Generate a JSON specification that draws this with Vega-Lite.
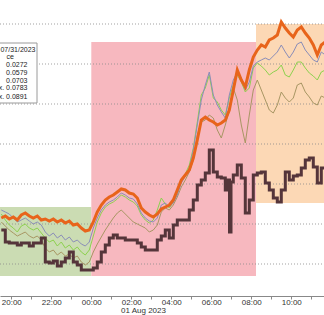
{
  "$schema": "https://vega.github.io/schema/vega-lite/v6.json",
  "width": 324,
  "height": 296,
  "autosize": {"type": "none"},
  "padding": {"left": 0, "top": 0, "right": 0, "bottom": 19},
  "background": "white",
  "config": {"view": {"stroke": null}, "font": "Liberation Sans"},
  "datasets": {
    "regions": [
      {"name": "green", "h": 19.3, "h2": 24.0, "v": 2.425, "v2": 0.7},
      {"name": "pink", "h": 24.0, "h2": 32.235, "v": 6.55, "v2": 0.7},
      {"name": "peach", "h": 32.235, "h2": 35.8, "v": 7.0, "v2": 2.525}
    ],
    "vgrid": [{"h": 20}, {"h": 22}, {"h": 26}, {"h": 28}, {"h": 30}, {"h": 32}, {"h": 34}],
    "midnight": [{"h": 24}],
    "hgrid": [{"v": 1}, {"v": 2}, {"v": 3}, {"v": 4}, {"v": 5}, {"v": 6}, {"v": 7}],
    "legendbox": [{"h": 19.3, "h2": 21.285, "v": 6.525, "v2": 5.025}],
    "legendtext": [
      {"h": 21.21, "v": 6.35, "label": "07/31/2023"},
      {"h": 20.135, "v": 6.167, "label": "ce"},
      {"h": 20.81, "v": 5.967, "label": "0.0272"},
      {"h": 20.81, "v": 5.783, "label": "0.0579"},
      {"h": 20.81, "v": 5.583, "label": "0.0703"},
      {"h": 20.81, "v": 5.392, "label": "x. 0.0783"},
      {"h": 20.81, "v": 5.183, "label": "x. 0.0891"}
    ],
    "lines": [
      {"h": 19.5, "A": 2.15, "B": 2.35, "C": 2.25, "D": 2.05, "E": 1.85},
      {"h": 19.7, "A": 2.2, "B": 2.3, "C": 2.1, "D": 1.95, "E": 1.55},
      {"h": 19.9, "A": 2.125, "B": 2.25, "C": 1.975, "D": 1.85, "E": 1.525},
      {"h": 20.1, "A": 2.175, "B": 2.15, "C": 1.9, "D": 1.775, "E": 1.525},
      {"h": 20.3, "A": 2.1, "B": 2.05, "C": 1.8, "D": 1.7, "E": 1.475},
      {"h": 20.5, "A": 2.225, "B": 2.1, "C": 1.95, "D": 1.75, "E": 1.525},
      {"h": 20.7, "A": 2.275, "B": 2.15, "C": 2.0, "D": 1.8, "E": 1.525},
      {"h": 20.9, "A": 2.2, "B": 2.075, "C": 1.9, "D": 1.7, "E": 1.45},
      {"h": 21.1, "A": 2.15, "B": 2.0, "C": 1.85, "D": 1.65, "E": 1.525},
      {"h": 21.3, "A": 2.2, "B": 2.05, "C": 1.9, "D": 1.7, "E": 1.525},
      {"h": 21.5, "A": 2.1, "B": 1.975, "C": 1.775, "D": 1.6, "E": 1.65},
      {"h": 21.7, "A": 2.125, "B": 1.8, "C": 1.65, "D": 1.4, "E": 1.05},
      {"h": 21.9, "A": 2.075, "B": 1.7, "C": 1.55, "D": 1.3, "E": 1.025},
      {"h": 22.1, "A": 2.125, "B": 1.775, "C": 1.6, "D": 1.35, "E": 1.075},
      {"h": 22.3, "A": 2.05, "B": 1.65, "C": 1.45, "D": 1.225, "E": 0.95},
      {"h": 22.5, "A": 2.1, "B": 1.725, "C": 1.55, "D": 1.3, "E": 1.05},
      {"h": 22.7, "A": 2.025, "B": 1.6, "C": 1.4, "D": 1.2, "E": 1.15},
      {"h": 22.9, "A": 2.075, "B": 1.675, "C": 1.475, "D": 1.25, "E": 1.3},
      {"h": 23.1, "A": 1.975, "B": 1.55, "C": 1.35, "D": 1.15, "E": 1.05},
      {"h": 23.3, "A": 2.0, "B": 1.6, "C": 1.425, "D": 1.2, "E": 0.975},
      {"h": 23.5, "A": 1.9, "B": 1.5, "C": 1.3, "D": 1.05, "E": 0.85},
      {"h": 23.7, "A": 1.825, "B": 1.45, "C": 1.225, "D": 0.975, "E": 0.85},
      {"h": 23.9, "A": 1.85, "B": 1.55, "C": 1.35, "D": 1.05, "E": 0.85},
      {"h": 24.1, "A": 2.05, "B": 1.9, "C": 1.7, "D": 1.3, "E": 0.9},
      {"h": 24.3, "A": 2.3, "B": 2.15, "C": 2.05, "D": 1.5, "E": 1.05},
      {"h": 24.5, "A": 2.475, "B": 2.35, "C": 2.275, "D": 1.675, "E": 1.3},
      {"h": 24.7, "A": 2.6, "B": 2.475, "C": 2.425, "D": 1.85, "E": 1.475},
      {"h": 24.9, "A": 2.675, "B": 2.55, "C": 2.5, "D": 2.0, "E": 1.65},
      {"h": 25.1, "A": 2.725, "B": 2.6, "C": 2.55, "D": 2.15, "E": 1.725},
      {"h": 25.3, "A": 2.8, "B": 2.675, "C": 2.625, "D": 2.275, "E": 1.65},
      {"h": 25.5, "A": 2.875, "B": 2.775, "C": 2.725, "D": 2.35, "E": 1.65},
      {"h": 25.7, "A": 2.85, "B": 2.725, "C": 2.675, "D": 2.25, "E": 1.6},
      {"h": 25.9, "A": 2.775, "B": 2.65, "C": 2.6, "D": 2.15, "E": 1.6},
      {"h": 26.1, "A": 2.75, "B": 2.625, "C": 2.55, "D": 2.05, "E": 1.6},
      {"h": 26.3, "A": 2.65, "B": 2.5, "C": 2.45, "D": 2.0, "E": 1.525},
      {"h": 26.5, "A": 2.4, "B": 2.275, "C": 2.225, "D": 1.95, "E": 1.425},
      {"h": 26.7, "A": 2.3, "B": 2.15, "C": 2.1, "D": 1.9, "E": 1.35},
      {"h": 26.9, "A": 2.225, "B": 2.075, "C": 2.025, "D": 1.8, "E": 1.35},
      {"h": 27.1, "A": 2.175, "B": 2.05, "C": 2.1, "D": 1.85, "E": 1.35},
      {"h": 27.3, "A": 2.25, "B": 2.15, "C": 2.35, "D": 1.975, "E": 1.6},
      {"h": 27.5, "A": 2.375, "B": 2.475, "C": 2.65, "D": 2.3, "E": 1.7},
      {"h": 27.7, "A": 2.425, "B": 2.525, "C": 2.5, "D": 2.4, "E": 1.85},
      {"h": 27.9, "A": 2.475, "B": 2.425, "C": 2.4, "D": 2.35, "E": 1.65},
      {"h": 28.1, "A": 2.6, "B": 2.525, "C": 2.55, "D": 2.475, "E": 1.975},
      {"h": 28.3, "A": 2.85, "B": 2.725, "C": 2.775, "D": 2.675, "E": 2.1},
      {"h": 28.5, "A": 3.1, "B": 3.025, "C": 3.05, "D": 2.925, "E": 2.1},
      {"h": 28.7, "A": 3.225, "B": 3.2, "C": 3.25, "D": 3.1, "E": 2.1},
      {"h": 28.9, "A": 3.35, "B": 3.4, "C": 3.475, "D": 3.3, "E": 2.35},
      {"h": 29.1, "A": 3.65, "B": 3.85, "C": 3.9, "D": 3.6, "E": 2.6},
      {"h": 29.3, "A": 4.1, "B": 4.475, "C": 4.55, "D": 4.225, "E": 2.975},
      {"h": 29.5, "A": 4.6, "B": 5.1, "C": 5.225, "D": 4.55, "E": 3.1},
      {"h": 29.7, "A": 4.675, "B": 5.475, "C": 5.4, "D": 4.6, "E": 3.275},
      {"h": 29.9, "A": 4.6, "B": 5.8, "C": 5.725, "D": 4.725, "E": 3.85},
      {"h": 30.1, "A": 4.55, "B": 5.225, "C": 5.15, "D": 4.65, "E": 3.3},
      {"h": 30.3, "A": 4.475, "B": 4.975, "C": 5.05, "D": 4.35, "E": 3.175},
      {"h": 30.5, "A": 4.525, "B": 4.8, "C": 4.85, "D": 4.15, "E": 3.15},
      {"h": 30.7, "A": 4.6, "B": 4.65, "C": 4.725, "D": 4.475, "E": 2.85},
      {"h": 30.835, "E": 3.1},
      {"h": 30.9, "A": 4.85, "B": 5.225, "C": 5.15, "D": 4.85},
      {"h": 30.91, "E": 1.8},
      {"h": 30.985, "E": 3.05},
      {"h": 31.1, "A": 5.35, "B": 5.6, "C": 5.475, "D": 5.4, "E": 3.225},
      {"h": 31.3, "A": 5.85, "B": 5.8, "C": 5.725, "D": 5.1, "E": 3.475},
      {"h": 31.5, "A": 5.6, "B": 5.65, "C": 5.55, "D": 4.475, "E": 3.15},
      {"h": 31.7, "A": 5.425, "B": 5.35, "C": 5.3, "D": 4.025, "E": 2.275},
      {"h": 31.9, "A": 5.85, "B": 5.55, "C": 5.4, "D": 4.725, "E": 2.6},
      {"h": 32.1, "A": 6.175, "B": 5.95, "C": 5.9, "D": 5.35, "E": 3.225},
      {"h": 32.3, "A": 6.35, "B": 6.05, "C": 6.025, "D": 5.6, "E": 3.275},
      {"h": 32.5, "A": 6.475, "B": 6.1, "C": 5.95, "D": 5.35, "E": 3.3},
      {"h": 32.7, "A": 6.425, "B": 6.15, "C": 5.85, "D": 5.1, "E": 3.025},
      {"h": 32.9, "A": 6.6, "B": 6.1, "C": 5.725, "D": 4.85, "E": 2.85},
      {"h": 33.1, "A": 6.65, "B": 6.2, "C": 5.8, "D": 4.775, "E": 2.65},
      {"h": 33.3, "A": 6.725, "B": 6.3, "C": 5.85, "D": 4.975, "E": 2.55},
      {"h": 33.5, "A": 7.05, "B": 6.475, "C": 5.975, "D": 5.3, "E": 2.85},
      {"h": 33.7, "A": 6.9, "B": 6.3, "C": 5.725, "D": 5.15, "E": 3.3},
      {"h": 33.9, "A": 6.775, "B": 6.15, "C": 5.675, "D": 5.05, "E": 3.1},
      {"h": 34.1, "A": 6.675, "B": 6.3, "C": 5.85, "D": 5.15, "E": 3.2},
      {"h": 34.3, "A": 6.85, "B": 6.5, "C": 6.05, "D": 5.475, "E": 3.225},
      {"h": 34.5, "A": 6.925, "B": 6.55, "C": 6.05, "D": 5.525, "E": 3.4},
      {"h": 34.7, "A": 6.775, "B": 6.35, "C": 5.9, "D": 5.3, "E": 3.6},
      {"h": 34.9, "A": 6.65, "B": 6.225, "C": 5.775, "D": 5.175, "E": 3.65},
      {"h": 35.1, "A": 6.475, "B": 6.1, "C": 5.7, "D": 5.025, "E": 3.425},
      {"h": 35.3, "A": 6.225, "B": 6.05, "C": 5.6, "D": 4.975, "E": 3.025},
      {"h": 35.5, "A": 6.475, "B": 6.3, "C": 5.8, "D": 5.2, "E": 3.4},
      {"h": 35.7, "A": 6.55, "B": 6.225, "C": 5.85, "D": 5.15, "E": 3.425}
    ]
  },
  "encoding": {
    "x": {
      "field": "h",
      "type": "quantitative",
      "title": "01 Aug 2023",
      "scale": {"domain": [19.435, 35.635], "nice": false, "zero": false},
      "axis": {
        "values": [20, 21, 22, 23, 24, 25, 26, 27, 28, 29, 30, 31, 32, 33, 34, 35],
        "labelExpr": "datum.value % 2 == 0 ? format(datum.value % 24, '02d') + ':00' : ''",
        "labelFont": "Liberation Sans",
        "labelFontSize": 8,
        "labelColor": "#333333",
        "labelPadding": -1,
        "labelFlush": false,
        "labelOverlap": false,
        "tickSize": 3,
        "tickColor": "#888888",
        "domainColor": "#888888",
        "grid": false,
        "titleFont": "Liberation Sans",
        "titleFontSize": 8,
        "titleFontWeight": "normal",
        "titleColor": "#333333",
        "titleX": 143,
        "titleY": 10,
        "titleAlign": "center",
        "titleBaseline": "top"
      }
    },
    "y": {
      "field": "v",
      "type": "quantitative",
      "title": null,
      "scale": {"domain": [0.2, 7.6], "nice": false, "zero": false},
      "axis": {"orient": "right", "labels": false, "ticks": false, "domain": false, "grid": false}
    }
  },
  "layer": [
    {
      "data": {"name": "regions"},
      "mark": {"type": "rect", "clip": true},
      "encoding": {
        "x2": {"field": "h2"},
        "y2": {"field": "v2"},
        "fill": {"field": "name", "type": "nominal", "legend": null,
          "scale": {"domain": ["green", "pink", "peach"], "range": ["#cbdcb3", "#f7b8bf", "#fcd8b5"]}}
      }
    },
    {
      "data": {"name": "vgrid"},
      "mark": {"type": "rule", "color": "#8a8a8a", "strokeDash": [1, 2], "strokeWidth": 1, "opacity": 0.8},
      "encoding": {}
    },
    {
      "data": {"name": "hgrid"},
      "mark": {"type": "rule", "color": "#8a8a8a", "strokeDash": [1, 2], "strokeWidth": 1, "opacity": 0.8},
      "encoding": {"x": {"value": 0}, "x2": {"value": 324}}
    },
    {
      "data": {"name": "midnight"},
      "mark": {"type": "rule", "color": "#8c8c8c", "strokeWidth": 1},
      "encoding": {}
    },
    {
      "data": {"name": "legendbox"},
      "mark": {"type": "rect", "fill": "white", "stroke": "#9a9a9a", "strokeWidth": 1, "clip": true},
      "encoding": {"x2": {"field": "h2"}, "y2": {"field": "v2"}}
    },
    {
      "data": {"name": "legendtext"},
      "mark": {"type": "text", "align": "right", "baseline": "middle", "fontSize": 7, "font": "Liberation Sans", "color": "#222222"},
      "encoding": {"text": {"field": "label"}}
    },
    {
      "data": {"name": "lines"},
      "transform": [{"fold": ["D", "C", "B"], "as": ["s", "v"]}, {"filter": "isValid(datum.v)"}],
      "mark": {"type": "line", "strokeWidth": 1, "clip": true},
      "encoding": {
        "stroke": {"field": "s", "type": "nominal", "legend": null,
          "scale": {"domain": ["A", "B", "C", "D", "E"], "range": ["#e8641b", "#8a8db8", "#8dd14e", "#a89663", "#55353a"]}}
      }
    },
    {
      "data": {"name": "lines"},
      "transform": [{"fold": ["E"], "as": ["s", "v"]}, {"filter": "isValid(datum.v)"}],
      "mark": {"type": "line", "strokeWidth": 3, "interpolate": "step-after", "clip": true},
      "encoding": {
        "stroke": {"field": "s", "type": "nominal", "legend": null,
          "scale": {"domain": ["A", "B", "C", "D", "E"], "range": ["#e8641b", "#8a8db8", "#8dd14e", "#a89663", "#55353a"]}}
      }
    },
    {
      "data": {"name": "lines"},
      "transform": [{"fold": ["A"], "as": ["s", "v"]}, {"filter": "isValid(datum.v)"}],
      "mark": {"type": "line", "strokeWidth": 3, "clip": true},
      "encoding": {
        "stroke": {"field": "s", "type": "nominal", "legend": null,
          "scale": {"domain": ["A", "B", "C", "D", "E"], "range": ["#e8641b", "#8a8db8", "#8dd14e", "#a89663", "#55353a"]}}
      }
    }
  ]
}
